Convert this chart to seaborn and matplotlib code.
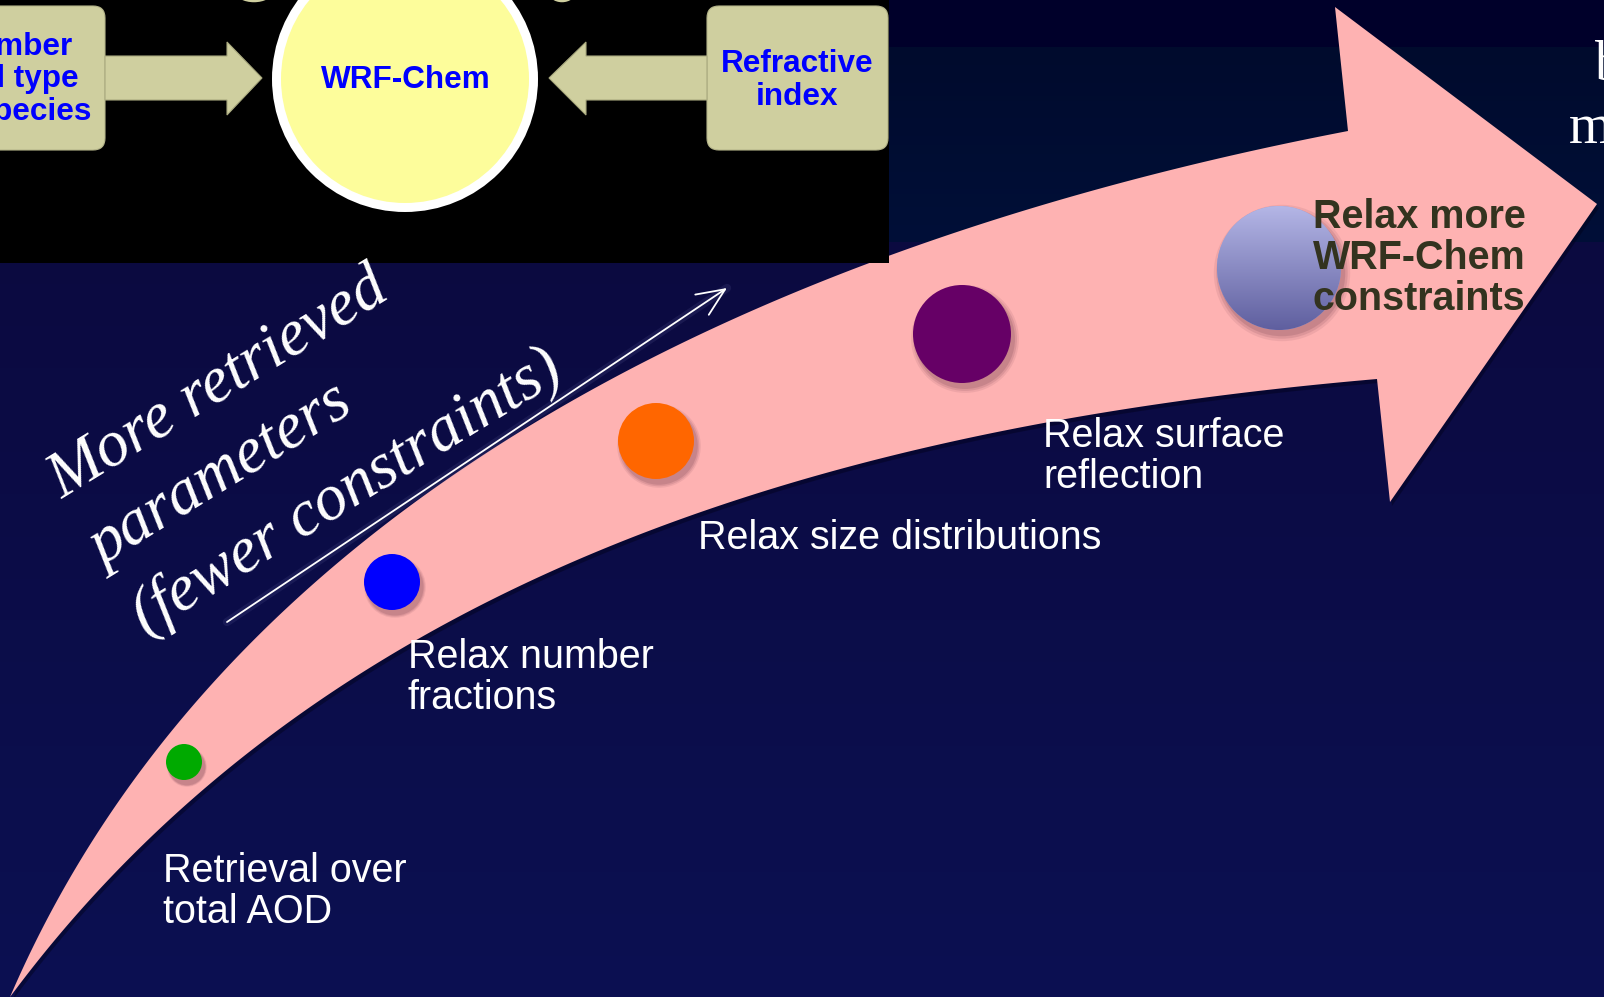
import numpy as np
import pandas as pd
import matplotlib
matplotlib.use("Agg")
import matplotlib.pyplot as plt
import seaborn as sns
from matplotlib.patches import Polygon, Rectangle, FancyBboxPatch, Circle, Ellipse

# ---- content -------------------------------------------------------------
stages = [
    "Retrieval over total AOD",
    "Relax number fractions",
    "Relax size distributions",
    "Relax surface reflection",
    "Relax more WRF-Chem constraints",
]
stage_lines = [
    ["Retrieval over", "total AOD"],
    ["Relax number", "fractions"],
    ["Relax size distributions"],
    ["Relax surface", "reflection"],
    ["Relax more", "WRF-Chem", "constraints"],
]
stage_colors = ["#00aa00", "#0000ff", "#ff6600", "#660066", "#9c9fd6"]

axis_lines = ["More retrieved", "parameters", "(fewer constraints)"]
left_box_lines = ["Number", "and type", "of species"]
right_box_lines = ["Refractive", "index"]
model_name = "WRF-Chem"
side_letters = ["b", "m"]

# ---- layout (pixel coordinates, y pointing down) -------------------------
W, H = 1604, 997
dot_x = [184, 392, 656, 962, 1279]
dot_y = [762, 582, 441, 334, 268]
dot_r = [18, 28, 38, 49, 62]
label_x = [163, 408, 698, 1043, 1313]
label_y = [882, 668, 549, 447, 228]

upper_edge = [(10, 997), (33, 954), (67, 894), (110, 824), (157, 750), (186, 710),
              (217, 672), (270, 620), (363, 535), (450, 477), (520, 437), (595, 392),
              (700, 338), (800, 293), (889, 253), (993, 217), (1060, 198),
              (1127, 182), (1213, 158), (1348, 131)]
lower_edge = [(10, 997), (67, 934), (133, 854), (200, 794), (267, 744), (313, 710),
              (380, 662), (450, 613), (517, 580), (583, 553), (667, 526), (767, 493),
              (867, 467), (967, 440), (1060, 420), (1127, 407), (1260, 390), (1377, 379)]
head = [(1335, 7), (1597, 204), (1390, 502)]

PINK = "#feb2b2"
KHAKI = "#cfcf9f"
BLUE = "#0000ff"

sns.set_style("white")
plt.rcParams["font.family"] = ["Liberation Sans", "DejaVu Sans"]


def px(v):
    """pixel em-size -> points at 100 dpi"""
    return v * 0.72


def bezier_edge(pts, n=300, iters=8):
    """Least-squares cubic Bezier through the end points of an edge."""
    pts = np.asarray(pts, float)
    P0, P3 = pts[0], pts[-1]
    d = np.r_[0, np.cumsum(np.hypot(*np.diff(pts, axis=0).T))]
    t = d / d[-1]
    tt = np.linspace(0, 1, 2000)

    def basis(s):
        return np.c_[(1 - s) ** 3, 3 * (1 - s) ** 2 * s, 3 * (1 - s) * s ** 2, s ** 3]

    for _ in range(iters):
        B = basis(t)
        rhs = pts - np.outer(B[:, 0], P0) - np.outer(B[:, 3], P3)
        ctrl, *_ = np.linalg.lstsq(B[:, 1:3], rhs, rcond=None)
        cp = np.vstack([P0, ctrl, P3])
        dense = basis(tt) @ cp
        idx = np.argmin(((pts[:, None, :] - dense[None]) ** 2).sum(-1), axis=1)
        t = tt[idx]
        t[0], t[-1] = 0.0, 1.0
    return basis(np.linspace(0, 1, n)) @ cp


def hex2rgb(h):
    return np.array(matplotlib.colors.to_rgb(h))


fig = plt.figure(figsize=(W / 100, H / 100), dpi=100)
ax = fig.add_axes([0, 0, 1, 1])
ax.set_axis_off()

# ---- background ----------------------------------------------------------
bg = np.zeros((H, 1, 3))
for y in range(H):
    if y < 48:
        bg[y, 0] = hex2rgb("#00002a")
    elif y < 243:
        f = (y - 48) / 195
        bg[y, 0] = (1 - f) * hex2rgb("#000b2d") + f * hex2rgb("#000f38")
    else:
        f = (y - 243) / (H - 243)
        bg[y, 0] = (1 - f) * hex2rgb("#0b0a40") + f * hex2rgb("#0c1052")
ax.imshow(bg, extent=(0, W, H, 0), aspect="auto", interpolation="nearest", zorder=0)

# ---- big curved arrow ----------------------------------------------------
up = bezier_edge(upper_edge)
lo = bezier_edge(lower_edge)
outline = np.vstack([up, np.array(head), lo[::-1]])
ax.add_patch(Polygon(outline + np.array([2, 4]), closed=True, facecolor="#02021a",
                     edgecolor="none", alpha=0.45, zorder=1))
ax.add_patch(Polygon(outline, closed=True, facecolor=PINK, edgecolor="none", zorder=2))

# ---- top diagram panel ---------------------------------------------------
ax.add_patch(Rectangle((0, 0), 889, 263, facecolor="black", edgecolor="none", zorder=3))
for cx, w_, h_ in [(254, 36, 20), (562, 26, 20)]:
    ax.add_patch(Ellipse((cx, -9), w_, h_, facecolor="none", edgecolor=KHAKI,
                         lw=1.8, zorder=3.5))

ax.add_patch(FancyBboxPatch((-90, 18), 183, 120, boxstyle="round,pad=12",
                            facecolor=KHAKI, edgecolor="#b5b58a", lw=0.8, zorder=4))
ax.add_patch(FancyBboxPatch((719, 18), 157, 120, boxstyle="round,pad=12",
                            facecolor=KHAKI, edgecolor="#b5b58a", lw=0.8, zorder=4))
ax.add_patch(Polygon([(105, 56), (227, 56), (227, 42), (262, 78), (227, 115), (227, 100),
                      (105, 100)], closed=True, facecolor=KHAKI, edgecolor="#a9a97e",
                     lw=0.8, zorder=4))
ax.add_patch(Polygon([(707, 56), (586, 56), (586, 42), (549, 78), (586, 115), (586, 100),
                      (707, 100)], closed=True, facecolor=KHAKI, edgecolor="#a9a97e",
                     lw=0.8, zorder=4))
ax.add_patch(Circle((405, 79), 133, facecolor="white", edgecolor="none", zorder=4))
ax.add_patch(Circle((405, 79), 124, facecolor="#fdfd9b", edgecolor="none", zorder=4.1))

bold_blue = dict(color=BLUE, fontsize=px(31.5), fontweight="bold", zorder=6)
ax.text(406, 88, model_name, ha="center", va="baseline", **bold_blue)
for ln, by in zip(left_box_lines, [55, 87, 120]):
    ax.text(14, by, ln, ha="center", va="baseline", **bold_blue)
for ln, by in zip(right_box_lines, [72, 105]):
    ax.text(797, by, ln, ha="center", va="baseline", **bold_blue)

# ---- stage markers -------------------------------------------------------
df = pd.DataFrame({"stage": stages, "x": dot_x, "y": dot_y, "r": dot_r})
df["s"] = (2 * df["r"] * 0.72) ** 2

# soft drop shadows
for k, a in [(1.10, 0.10), (1.06, 0.14), (1.02, 0.18)]:
    ax.scatter(df["x"] + 3, df["y"] + 5, s=df["s"] * k ** 2, color="#6b3a4a",
               alpha=a, linewidths=0, zorder=4.5)

sns.scatterplot(data=df, x="x", y="y", hue="stage", size="stage",
                palette=dict(zip(stages, stage_colors)),
                sizes=dict(zip(stages, df["s"])), linewidth=0,
                legend=False, ax=ax, zorder=5)

# shaded sphere for the last stage
grad = np.linspace(0, 1, 256)[:, None]
top_c, bot_c = hex2rgb("#b4b6e6"), hex2rgb("#5f5f9f")
shade = (1 - grad)[..., None] * top_c + grad[..., None] * bot_c
shade = np.repeat(shade, 2, axis=1)
cx, cy, cr = dot_x[-1], dot_y[-1], dot_r[-1]
im = ax.imshow(shade, extent=(cx - cr, cx + cr, cy + cr, cy - cr), aspect="auto",
               interpolation="bilinear", zorder=5.2)
im.set_clip_path(Circle((cx, cy), cr, transform=ax.transData))

# ---- stage labels --------------------------------------------------------
for i, lines in enumerate(stage_lines):
    last = i == len(stage_lines) - 1
    for j, ln in enumerate(lines):
        ax.text(label_x[i], label_y[i] + j * 41, ln, ha="left", va="baseline",
                fontsize=px(39.5), color="#33331f" if last else "white",
                fontweight="bold" if last else "normal", zorder=7)

# ---- rotated axis caption and its arrow ----------------------------------
ang = 31.5
perp = np.array([np.sin(np.radians(ang)), np.cos(np.radians(ang))])
origin = np.array([62.0, 499.0])
for j, ln in enumerate(axis_lines):
    p = origin + j * 80 * perp
    ax.text(p[0], p[1], ln, rotation=ang, rotation_mode="anchor", ha="left",
            va="baseline", fontsize=px(65), color="white", fontstyle="italic",
            family=["Liberation Serif", "DejaVu Serif"], zorder=7)

ax.plot([227, 727], [622, 288], color="#8080c0", lw=6, alpha=0.12,
        solid_capstyle="round", zorder=6)
ax.annotate("", xy=(727, 288), xytext=(227, 622),
            arrowprops=dict(arrowstyle="->,head_length=0.8,head_width=0.35",
                            color="white", lw=1.3, mutation_scale=25,
                            shrinkA=0, shrinkB=0), zorder=7)

# ---- text running off the right edge ---------------------------------------
for ch, xx, yb in zip(side_letters, [1595, 1569], [80, 143]):
    ax.text(xx, yb, ch, ha="left", va="baseline", fontsize=px(56), color="white",
            family=["Liberation Serif", "DejaVu Serif"], zorder=7)

ax.set_xlim(0, W)
ax.set_ylim(H, 0)
fig.savefig("out.png", dpi=100)
